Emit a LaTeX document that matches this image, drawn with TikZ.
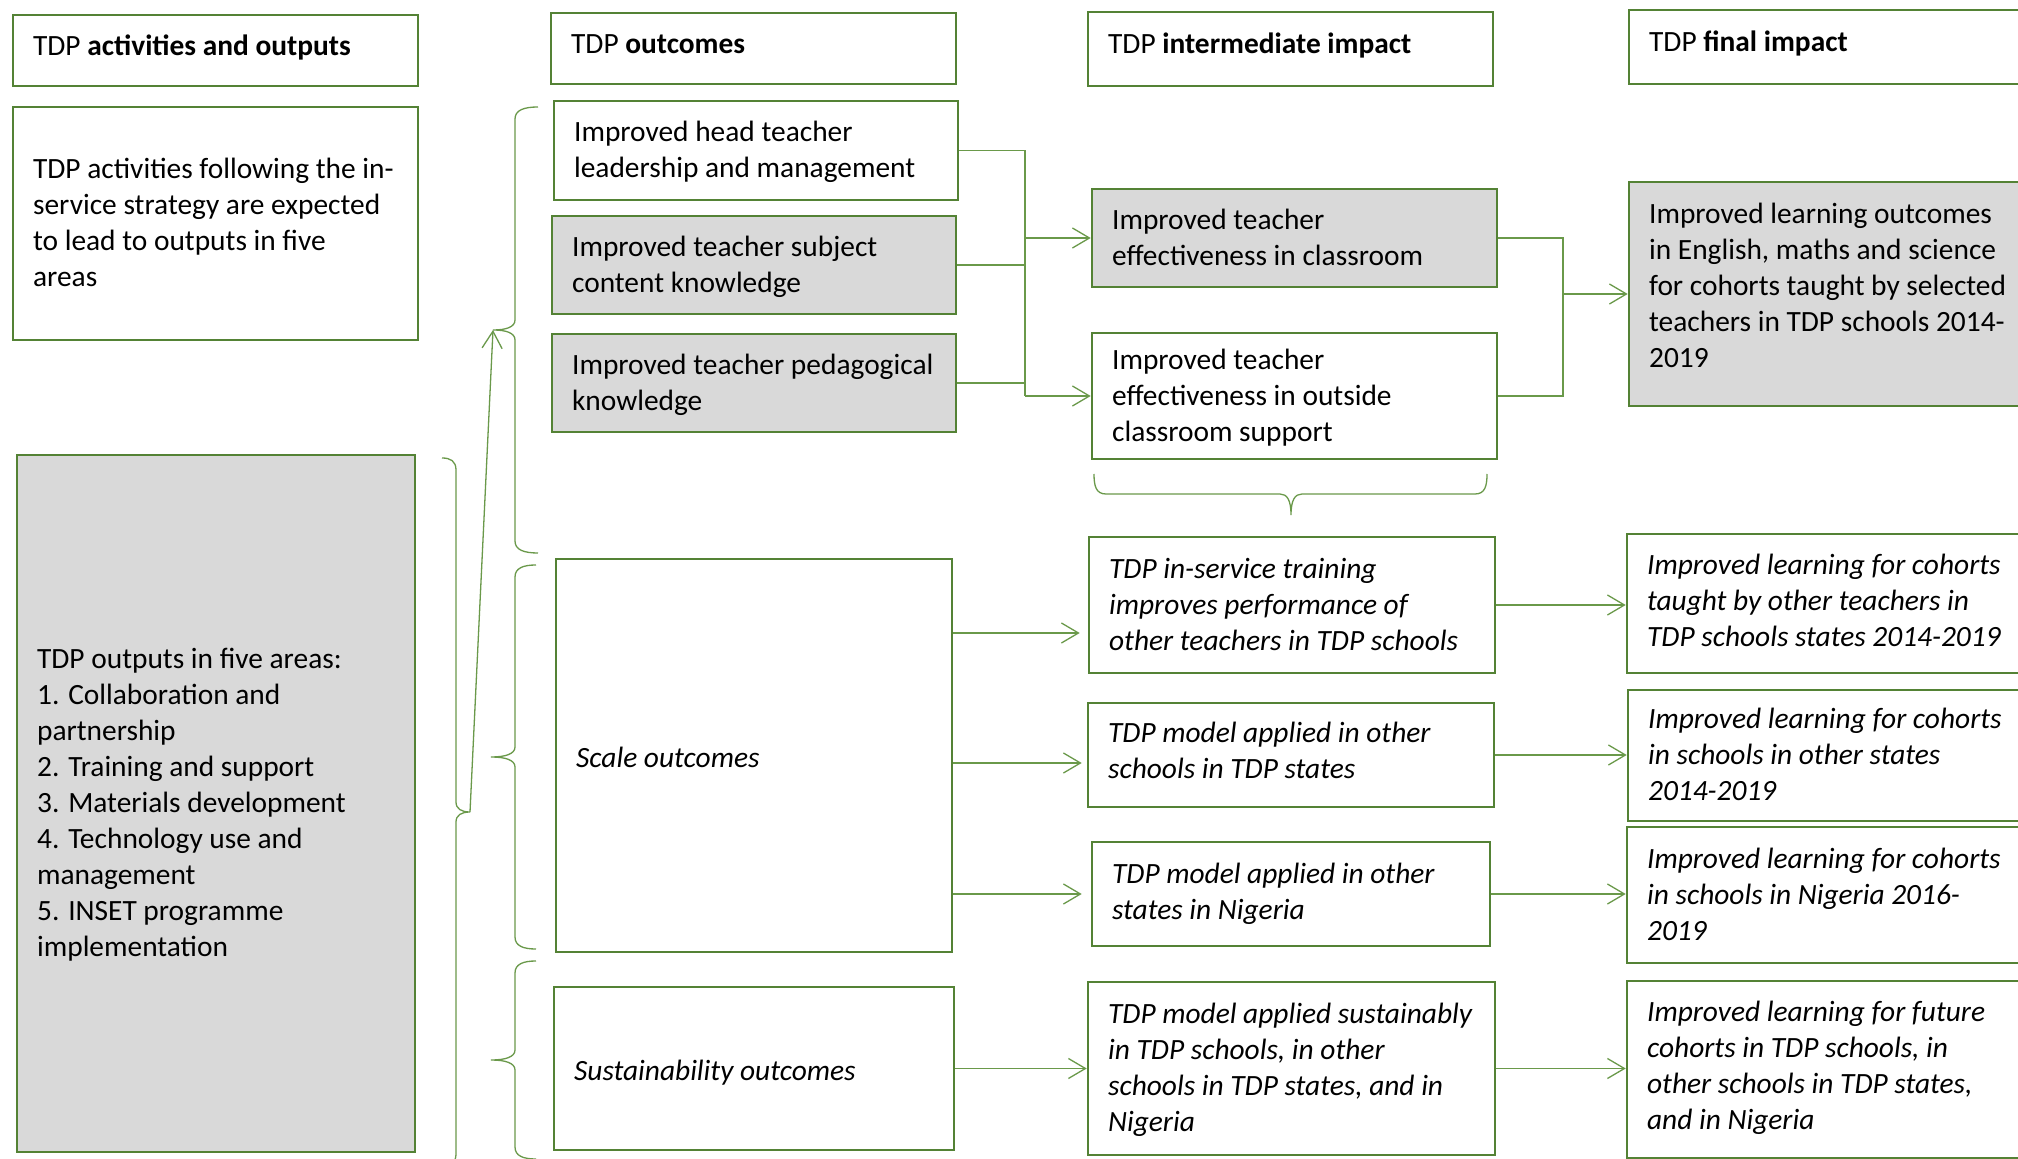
\documentclass[tikz,border=0pt]{standalone}
\usepackage{fontspec}
\setmainfont{Carlito}
\usetikzlibrary{arrows.meta,calc}
\definecolor{bgreen}{RGB}{84,130,53}
\definecolor{lgreen}{RGB}{106,153,74}
\definecolor{bgrey}{RGB}{217,217,217}
\newcommand\mybox[8]{%
  \pgfmathsetmacro\mbw{(#4-#2)*0.5}%
  \pgfmathsetmacro\mbh{(#5-#3)*0.5}%
  \node[box,#6,minimum width=\mbw pt,minimum height=\mbh pt] (#1) at ({(#2+#4)/2},{(#3+#5)/2}) {};
  \node[txt,#7,anchor=west] (#1-t) at ([xshift=10.5pt]#1.west) {#8};}
\newcommand\mybrace[5]{% xend, xspine, xtip, ytop, ybot
  \pgfmathsetmacro\mym{(#4+#5)/2}%
  \pgfmathsetmacro\mea{#2+0.4*(#1-#2)}%
  \pgfmathsetmacro\mti{#2+0.4*(#3-#2)}%
  \draw[brc] (#1,#4) .. controls (\mea,#4) and (#2,{#4+3}) .. (#2,{#4+12})
    -- (#2,{\mym-10}) .. controls (#2,{\mym-3}) and (\mti,\mym) .. (#3,\mym)
    .. controls (\mti,\mym) and (#2,{\mym+3}) .. (#2,{\mym+10})
    -- (#2,{#5-12}) .. controls (#2,{#5-3}) and (\mea,#5) .. (#1,#5);}
\begin{document}
\begin{tikzpicture}[x=0.5pt,y=-0.5pt,
  box/.style={draw=bgreen,line width=1.3pt,rectangle,inner sep=0pt},
  grey/.style={fill=bgrey},
  txt/.style={inner sep=0pt,align=left,yshift=-2.2pt,font=\fontsize{14.7pt}{18pt}\selectfont,
    execute at begin node=\strut,execute at end node=\strut},
  it/.style={font=\fontsize{14.7pt}{18pt}\selectfont\itshape},
  conn/.style={draw=lgreen,line width=0.65pt},
  arr/.style={conn,-{Straight Barb[length=8.5pt,width=10pt]}},
  brc/.style={draw=lgreen,line width=0.65pt}]
\useasboundingbox (0,0) rectangle (2018,1159);
\fill[white] (0,0) rectangle (2018,1159);
\clip (0,0) rectangle (2018,1159);

% headers
\mybox{hA}{13}{15}{418}{86}{}{yshift=3.3pt}{TDP \textbf{activities and outputs}}
\mybox{hB}{551}{13}{956}{84}{}{yshift=3.3pt}{TDP \textbf{outcomes}}
\mybox{hC}{1088}{12}{1493}{86}{}{yshift=3.3pt}{TDP \textbf{intermediate impact}}
\mybox{hD}{1629}{10}{2034}{84}{}{yshift=3.3pt}{TDP \textbf{final impact}}

% activities and outputs
\mybox{act}{13}{107}{418}{340}{}{}{TDP activities following the in-\\service strategy are expected\\to lead to outputs in five\\areas}
\mybox{outp}{17}{455}{415}{1152}{grey}{}{TDP outputs in five areas:\\1. Collaboration and\\partnership\\2. Training and support\\3. Materials development\\4. Technology use and\\management\\5. INSET programme\\implementation}

% outcomes
\mybox{head}{554}{101}{958}{200}{}{}{Improved head teacher\\leadership and management}
\mybox{subj}{552}{216}{956}{314}{grey}{}{Improved teacher subject\\content knowledge}
\mybox{ped}{552}{334}{956}{432}{grey}{}{Improved teacher pedagogical\\knowledge}
\mybox{scale}{556}{559}{952}{952}{}{it}{Scale outcomes}
\mybox{sust}{554}{987}{954}{1150}{}{it}{Sustainability outcomes}

% intermediate impact
\mybox{cls}{1092}{189}{1497}{287}{grey}{}{Improved teacher\\effectiveness in classroom}
\mybox{outs}{1092}{333}{1497}{459}{}{}{Improved teacher\\effectiveness in outside\\classroom support}
\mybox{ins}{1089}{537}{1495}{673}{}{it}{TDP in-service training\\improves performance of\\other teachers in TDP schools}
\mybox{mos}{1088}{703}{1494}{807}{}{it,yshift=2.1pt}{TDP model applied in other\\schools in TDP states}
\mybox{mst}{1092}{842}{1490}{946}{}{it,yshift=1.1pt}{TDP model applied in other\\states in Nigeria}
\mybox{msu}{1088}{982}{1495}{1155}{}{it}{TDP model applied sustainably\\in TDP schools, in other\\schools in TDP states, and in\\Nigeria}

% final impact
\mybox{fin}{1629}{182}{2034}{406}{grey}{yshift=4pt}{Improved learning outcomes\\in English, maths and science\\for cohorts taught by selected\\teachers in TDP schools 2014-\\2019}
\mybox{f1}{1627}{534}{2034}{673}{}{it,yshift=1.1pt}{Improved learning for cohorts\\taught by other teachers in\\TDP schools states 2014-2019}
\mybox{f2}{1628}{690}{2034}{821}{}{it}{Improved learning for cohorts\\in schools in other states\\2014-2019}
\mybox{f3}{1627}{827}{2034}{963}{}{it}{Improved learning for cohorts\\in schools in Nigeria 2016-\\2019}
\mybox{f4}{1627}{981}{2034}{1158}{}{it,yshift=1.6pt}{Improved learning for future\\cohorts in TDP schools, in\\other schools in TDP states,\\and in Nigeria}

% connectors: outcomes -> intermediate
\coordinate (jA) at (1025,150);
\draw[conn] (head.east) -| (jA |- outs.west);
\draw[conn] (subj.east) -- (jA |- subj.east);
\draw[conn] (ped.east) -- (jA |- ped.east);
\draw[arr] (jA |- cls.west) -- (cls.west);
\draw[arr] (jA |- outs.west) -- (outs.west);

% intermediate -> final
\coordinate (jB) at (1563,238);
\draw[conn] (cls.east) -| (jB |- outs.east) -- (outs.east);
\draw[arr] (jB |- fin.west) -- (fin.west);

% scale and sustainability arrows
\coordinate (a1) at (0,633);
\coordinate (a2) at (0,763);
\draw[arr] (scale.east |- a1) -- ([xshift=-4pt]ins.west |- a1);
\draw[arr] (scale.east |- a2) -- ([xshift=-2.5pt]mos.west |- a2);
\draw[arr] (scale.east |- mst.west) -- ([xshift=-4.5pt]mst.west);
\draw[arr] (sust.east) -- (msu.west);
\draw[arr] (ins.east) -- (f1.west |- ins.east);
\draw[arr] (mos.east) -- (f2.west |- mos.east);
\draw[arr] (mst.east) -- (f3.west |- mst.east);
\draw[arr] (msu.east) -- (f4.west |- msu.east);

% braces
\mybrace{538}{515}{493}{107}{553}
\mybrace{536}{515}{491}{565}{949}
\mybrace{536}{515}{491}{961}{1159}
\mybrace{442}{456}{470}{458}{1166}
\draw[brc] (1094,474) .. controls (1094,486) and (1096,494) .. (1106,494) -- (1280,494)
  .. controls (1287,494) and (1291,500) .. (1291,515)
  .. controls (1291,500) and (1295,494) .. (1302,494) -- (1475,494)
  .. controls (1485,494) and (1487,486) .. (1487,474);

% long arrow from outputs brace to outcomes brace
\coordinate (otip) at (470,812);
\coordinate (b1tip) at (493,330);
\draw[arr] (otip) -- (b1tip);
\end{tikzpicture}
\end{document}
